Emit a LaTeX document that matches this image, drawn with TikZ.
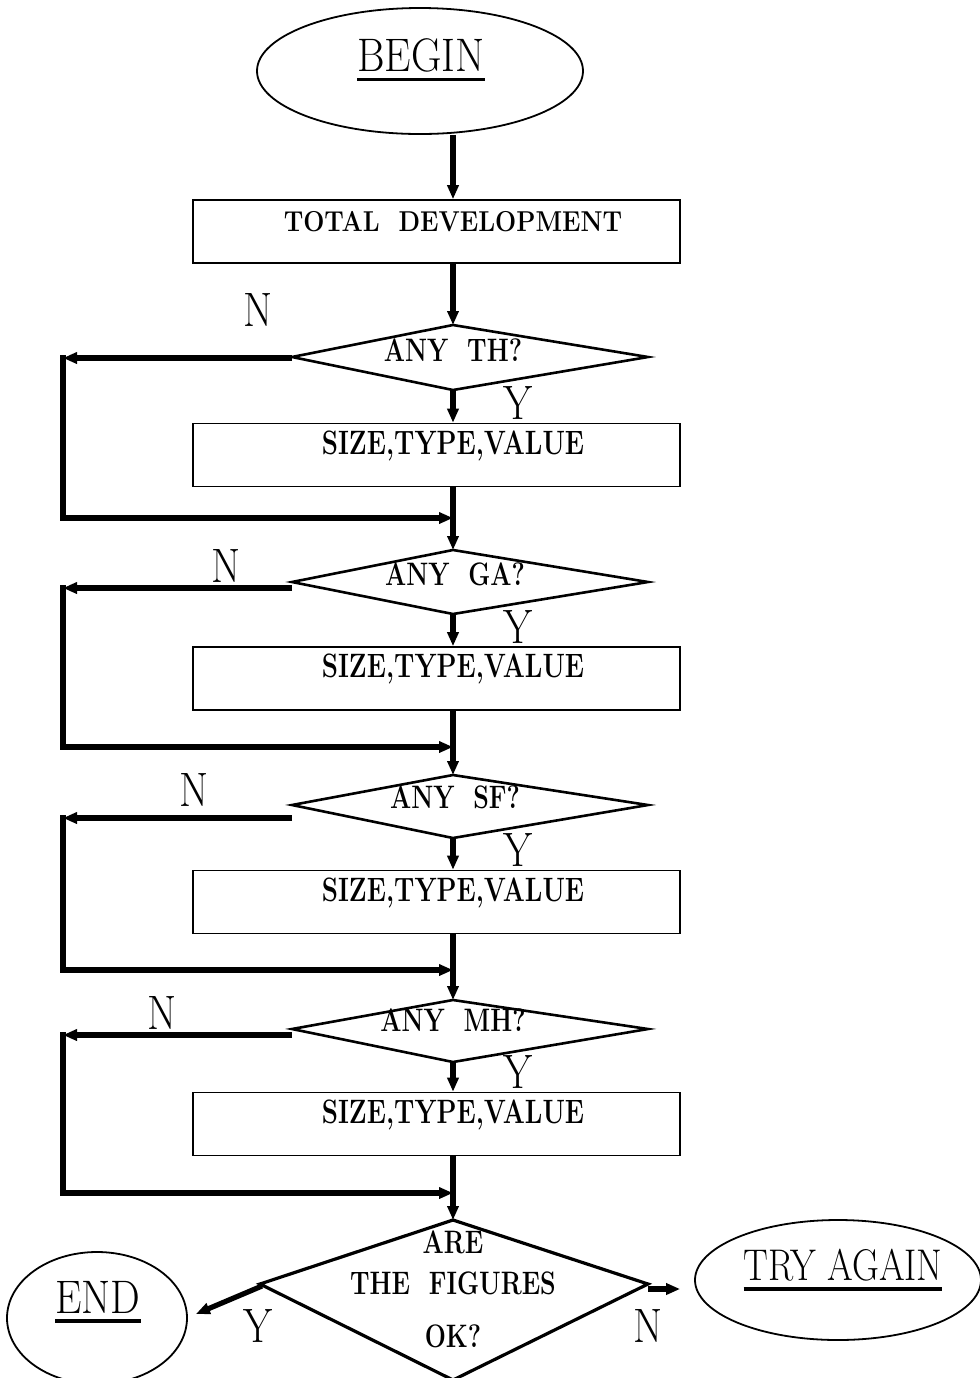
\documentclass[tikz,border=0pt]{standalone}
\usepackage{graphicx}
\usetikzlibrary{arrows.meta,shapes.geometric}
\newcommand{\myul}[1]{\setbox0\hbox{#1}\rlap{\rule[-5pt]{\wd0}{1.8pt}}\box0}
\newcommand{\tallt}[2]{\scalebox{1}[#1]{#2}}
\begin{document}
\begin{tikzpicture}[x=0.5pt,y=-0.5pt,
  tip/.tip={Triangle[length=7pt,width=5.5pt]},
  flow/.style={line width=2.6pt,-tip},
  plain/.style={line width=2.6pt},
  boxshape/.style={draw,line width=0.8pt,minimum width=243.5pt,minimum height=31.5pt,inner sep=0pt},
  dshape/.style={draw,line width=1.3pt,line join=miter},
  term/.style={ellipse,draw,line width=0.9pt,inner sep=0pt},
  btext/.style={font=\fontsize{12.5}{14}\bfseries,inner sep=0pt},
  big/.style={font=\fontsize{21}{24}\selectfont,inner sep=0pt},
  yn/.style={font=\fontsize{21}{24}\selectfont,inner sep=0pt}]
\useasboundingbox (0,0) rectangle (980,1378);

% terminals
\node[term,minimum width=163pt,minimum height=63pt] (begin) at (420,71) {};
\node[big] (begintxt) at (421,60) {\myul{\tallt{1.12}{BEGIN}}};
\node[term,minimum width=90pt,minimum height=66pt] (end) at (97,1318) {};
\node[big] (endtxt) at (98,1302) {\myul{\tallt{1.12}{END}}};
\node[term,minimum width=143pt,minimum height=60pt] (try) at (838,1280) {};
\node[big,font=\fontsize{18.5}{22}\selectfont] (trytxt) at (843,1270) {\myul{\tallt{1.2}{TRY\ AGAIN}}};

% boxes
\node[boxshape] (b0) at (436.5,231.5) {};
\node[btext] (t0) at (453,222) {\tallt{1.15}{TOTAL\ \ DEVELOPMENT}};
\node[boxshape] (b1) at (436.5,455) {};
\node[btext,font=\fontsize{13}{15}\bfseries] (t1) at (453,446) {\tallt{1.3}{SIZE,TYPE,VALUE}};
\node[boxshape] (b2) at (436.5,678.5) {};
\node[btext,font=\fontsize{13}{15}\bfseries] (t2) at (453,669) {\tallt{1.3}{SIZE,TYPE,VALUE}};
\node[boxshape] (b3) at (436.5,902) {};
\node[btext,font=\fontsize{13}{15}\bfseries] (t3) at (453,893) {\tallt{1.3}{SIZE,TYPE,VALUE}};
\node[boxshape] (b4) at (436.5,1124) {};
\node[btext,font=\fontsize{13}{15}\bfseries] (t4) at (453,1115) {\tallt{1.3}{SIZE,TYPE,VALUE}};

% diamonds
\coordinate (d1t) at (453,325); \coordinate (d1l) at (292,357); \coordinate (d1r) at (648,357); \coordinate (d1b) at (453,390);
\coordinate (d2t) at (453,550); \coordinate (d2l) at (292,582); \coordinate (d2r) at (648,582); \coordinate (d2b) at (453,614);
\coordinate (d3t) at (453,775); \coordinate (d3l) at (292,805); \coordinate (d3r) at (648,805); \coordinate (d3b) at (453,838);
\coordinate (d4t) at (453,1000); \coordinate (d4l) at (292,1029); \coordinate (d4r) at (648,1029); \coordinate (d4b) at (453,1062);
\coordinate (d5t) at (453,1220); \coordinate (d5l) at (260,1284); \coordinate (d5r) at (648,1284); \coordinate (d5b) at (453,1380);
\foreach \i in {1,...,4} {\draw[dshape] (d\i t) -- (d\i r) -- (d\i b) -- (d\i l) -- cycle;}
\draw[dshape,line width=1.6pt] (d5t) -- (d5r) -- (d5b) -- (d5l) -- cycle;
\node[btext] (q1) at (453,350) {\tallt{1.3}{ANY\ \ TH?}};
\node[btext] (q2) at (455,574) {\tallt{1.3}{ANY\ \ GA?}};
\node[btext] (q3) at (455,797) {\tallt{1.3}{ANY\ \ SF?}};
\node[btext] (q4) at (453,1020) {\tallt{1.3}{ANY\ \ MH?}};
\node[btext] (q5a) at (453,1242) {\tallt{1.3}{ARE}};
\node[btext] (q5b) at (453,1283) {\tallt{1.3}{THE\ \ FIGURES}};
\node[btext] (q5c) at (453,1336) {\tallt{1.3}{OK?}};

% main flow
\coordinate (mid) at (453,0);
\draw[flow] (begin.south -| mid) -- (b0.north -| mid);
\draw[flow] (b0.south -| mid) -- (d1t);
\draw[flow] (d1b) -- (b1.north -| mid);
\draw[flow] (b1.south -| mid) -- (d2t);
\draw[flow] (d2b) -- (b2.north -| mid);
\draw[flow] (b2.south -| mid) -- (d3t);
\draw[flow] (d3b) -- (b3.north -| mid);
\draw[flow] (b3.south -| mid) -- (d4t);
\draw[flow] (d4b) -- (b4.north -| mid);
\draw[flow] (b4.south -| mid) -- (d5t);

% N loops
\coordinate (n1) at (292,358); \coordinate (l1) at (63,358); \coordinate (lb1) at (63,518); \coordinate (m1) at (453,518);
\coordinate (n2) at (292,588); \coordinate (l2) at (63,588); \coordinate (lb2) at (63,747); \coordinate (m2) at (453,747);
\coordinate (n3) at (292,818); \coordinate (l3) at (63,818); \coordinate (lb3) at (63,970); \coordinate (m3) at (453,970);
\coordinate (n4) at (292,1035); \coordinate (l4) at (63,1035); \coordinate (lb4) at (63,1193); \coordinate (m4) at (453,1193);
\foreach \i in {1,...,4} {
  \draw[flow] (n\i) -- (l\i);
  \draw[plain,line cap=rect] (l\i) -- (lb\i);
  \draw[flow] (lb\i) -- (m\i);
}

% final outcomes
\draw[flow] ([xshift=1pt,yshift=-1pt]d5l) -- ([xshift=4pt,yshift=2pt]end.east);
\coordinate (n5) at (648,1289);
\draw[flow,shorten >=7pt] (n5) -- (n5 -| try.west);

% labels
\node[yn] (lN1) at (258,310) {\tallt{1.15}{N}};
\node[yn] (lN2) at (226,566) {\tallt{1.15}{N}};
\node[yn] (lN3) at (194,790) {\tallt{1.15}{N}};
\node[yn] (lN4) at (162,1013) {\tallt{1.15}{N}};
\node[yn] (lY1) at (518,403) {\tallt{1.15}{Y}};
\node[yn] (lY2) at (518,627) {\tallt{1.15}{Y}};
\node[yn] (lY3) at (518,850) {\tallt{1.15}{Y}};
\node[yn] (lY4) at (518,1072) {\tallt{1.15}{Y}};
\node[yn] (lY5) at (258,1326) {\tallt{1.15}{Y}};
\node[yn] (lN5) at (648,1326) {\tallt{1.15}{N}};
\end{tikzpicture}
\end{document}
